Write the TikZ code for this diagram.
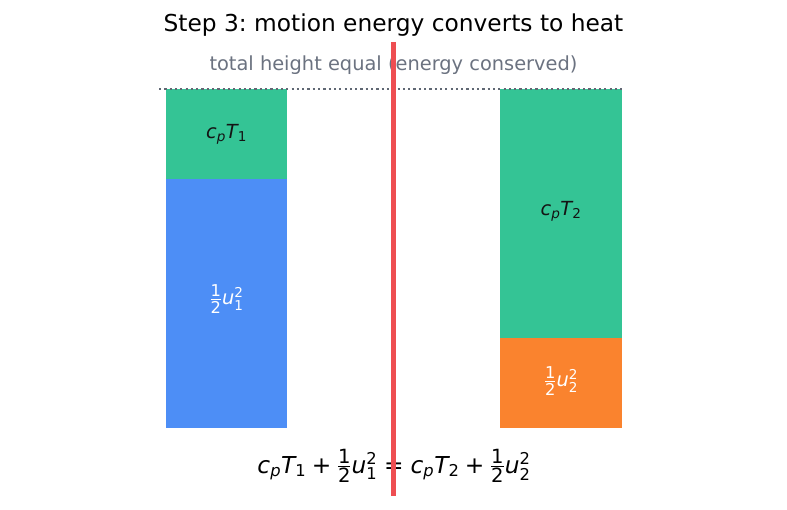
\documentclass[tikz,border=0pt]{standalone}
\usepackage{amsmath}
\usepackage{graphicx}
\usepackage{fontspec}
\setmainfont{DejaVu Sans}
\usepackage{xcolor}
\usetikzlibrary{calc}
\frenchspacing

\definecolor{heatgreen}{RGB}{52,196,149}
\definecolor{motionblue}{RGB}{77,142,246}
\definecolor{motionorange}{RGB}{250,131,46}
\definecolor{wallred}{RGB}{238,78,82}
\definecolor{notegray}{RGB}{107,114,128}
\definecolor{inkdark}{RGB}{20,20,20}

\newcommand{\vi}[1]{\text{\itshape #1}}
\newcommand{\dg}[1]{\text{#1}}
\newcommand{\fd}[1]{\text{\scalebox{1.2}{#1}}}
\newcommand{\half}{\tfrac{\fd{1}}{\fd{2}}}

\begin{document}
\begin{tikzpicture}[x=1pt, y=-1pt,
    barlabel/.style={font=\fontsize{19.4}{23}\selectfont, inner sep=0pt}]
  \useasboundingbox (0,0) rectangle (787,510);

  % Define the bar corners
  \coordinate (L) at (166,89);
  \coordinate (R) at (500,89);

  % Left bar: heat on top of motion energy
  \fill[heatgreen] (L) rectangle (287,179);
  \fill[motionblue] (166,179) rectangle (287,428);
  \node[barlabel, inkdark] (heatone) at (226.5,134) {$\vi{c}_{\vi{p}}\vi{T}_{\dg{1}}$};
  \node[barlabel, white] (motionone) at (226.5,299) {$\half\vi{u}_{\dg{1}}^{\dg{2}}$};

  % Right bar: more heat, less motion energy
  \fill[heatgreen] (R) rectangle (622,338);
  \fill[motionorange] (500,338) rectangle (622,428);
  \node[barlabel, inkdark] (heattwo) at (561,211) {$\vi{c}_{\vi{p}}\vi{T}_{\dg{2}}$};
  \node[barlabel, white] (motiontwo) at (561,381) {$\half\vi{u}_{\dg{2}}^{\dg{2}}$};

  % Dotted line marking the equal total height
  \coordinate (dotA) at (159,89);
  \coordinate (dotB) at (625,89);
  \draw[notegray!90!black, line width=2.2pt, dash pattern=on 2.2pt off 3.1pt] (dotA) -- (dotB);

  % Title and note
  \node[font=\fontsize{23.3}{28}\selectfont] (title) at (393.5,25) {Step 3: motion energy converts to heat};
  \node[notegray, font=\fontsize{19.4}{23}\selectfont] (note) at (393.5,65) {total height equal (energy conserved)};

  % Energy balance
  \node[font=\fontsize{23.3}{28}\selectfont] (balance) at (394,466)
    {$\vi{c}_{\vi{p}}\vi{T}_{\dg{1}}\mathbin{\text{+}}\half\vi{u}_{\dg{1}}^{\dg{2}}
      \mathrel{\text{=}}\vi{c}_{\vi{p}}\vi{T}_{\dg{2}}\mathbin{\text{+}}\half\vi{u}_{\dg{2}}^{\dg{2}}$};

  % The shock front
  \coordinate (wallTop) at (393.5,42);
  \coordinate (wallBot) at (393.5,496);
  \draw[wallred, line width=5pt] (wallTop) -- (wallBot);

\end{tikzpicture}
\end{document}
